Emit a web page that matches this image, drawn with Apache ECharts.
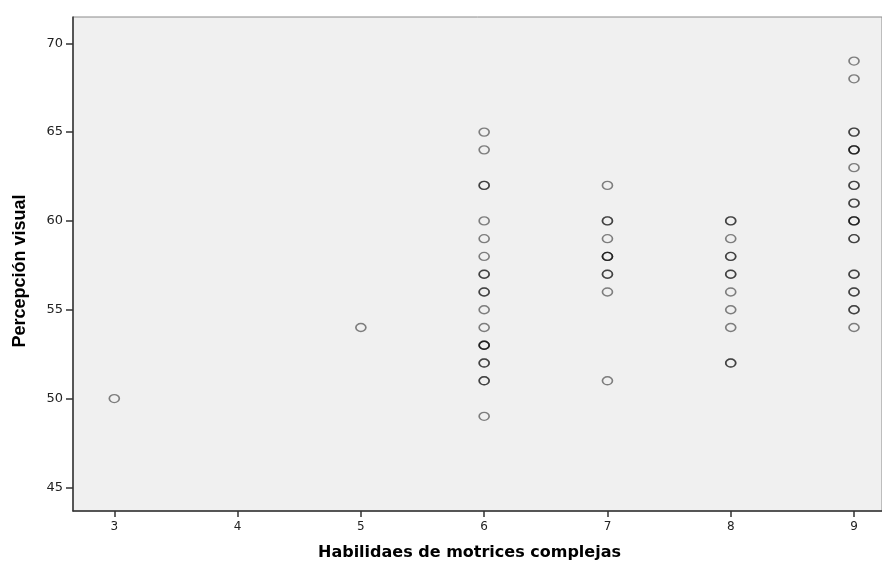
<!DOCTYPE html>
<html>
<head>
<meta charset="utf-8">
<script src="https://cdn.jsdelivr.net/npm/echarts@6/dist/echarts.min.js"></script>
<style>
  html, body { margin: 0; padding: 0; background: #ffffff; }
  #chart { width: 882px; height: 562px; }
</style>
</head>
<body>
<div id="chart"></div>
<script>
// Scores per motor-skill level; repeated values are listed once per case
const motorLevels = [3, 5, 6, 7, 8, 9];
const visualScores = [
  [50],
  [54],
  [65, 64, 62, 62, 60, 59, 58, 57, 57, 56, 56, 55, 54, 53, 53, 53, 52, 52, 51, 51, 49],
  [62, 60, 60, 59, 58, 58, 58, 57, 57, 56, 51],
  [60, 60, 59, 58, 58, 57, 57, 56, 55, 54, 52, 52],
  [69, 68, 65, 65, 64, 64, 64, 63, 62, 62, 61, 61, 60, 60, 60, 59, 59, 57, 57, 56, 56, 55, 55, 54]
];
const xTicks = [3, 4, 5, 6, 7, 8, 9];
const yTicks = [45, 50, 55, 60, 65, 70];

const points = [];
motorLevels.forEach((lvl, i) => {
  visualScores[i].forEach(v => points.push([lvl, v]));
});

const chart = echarts.init(document.getElementById('chart'), null, { renderer: 'canvas' });
chart.setOption({
  animation: false,
  grid: {
    left: 73, top: 17, right: 0, bottom: 51,
    outerBoundsMode: 'none',
    containLabel: false,
    show: true,
    backgroundColor: '#f0f0f0',
    borderColor: '#8a8a8a',
    borderWidth: 1
  },
  xAxis: {
    type: 'value',
    min: 2.665,
    max: 9.227,
    name: 'Habilidaes de motrices complejas',
    nameLocation: 'middle',
    nameGap: 34,
    nameTextStyle: { fontFamily: 'DejaVu Sans', fontWeight: 'bold', fontSize: 16, color: '#000', padding: [0, 16, 0, 0] },
    axisLine: { onZero: false, lineStyle: { color: '#333', width: 1.5 } },
    axisTick: { show: true, length: 6, customValues: xTicks, lineStyle: { color: '#333', width: 1.5 } },
    axisLabel: { customValues: xTicks, fontFamily: 'DejaVu Sans', fontSize: 12, color: '#222', margin: 10 },
    splitLine: { show: false }
  },
  yAxis: {
    type: 'value',
    min: 43.67,
    max: 71.48,
    name: 'Percepción visual',
    nameLocation: 'middle',
    nameGap: 44,
    nameRotate: 90,
    nameTextStyle: { fontFamily: 'Liberation Sans Narrow, Liberation Sans, Arial', fontWeight: 'bold', fontSize: 18, color: '#000', padding: [0, 14, 0, 0] },
    axisLine: { onZero: false, lineStyle: { color: '#333', width: 1.5 } },
    axisTick: { show: true, length: 7, customValues: yTicks, lineStyle: { color: '#333', width: 1.5 } },
    axisLabel: { customValues: yTicks, fontFamily: 'DejaVu Sans', fontSize: 13, color: '#222', margin: 10 },
    splitLine: { show: false }
  },
  series: [{
    type: 'scatter',
    data: points,
    symbol: 'circle',
    symbolSize: [10, 8],
    itemStyle: {
      color: 'rgba(0,0,0,0)',
      borderColor: 'rgba(0,0,0,0.6)',
      borderWidth: 1.5
    }
  }]
});
</script>
</body>
</html>
